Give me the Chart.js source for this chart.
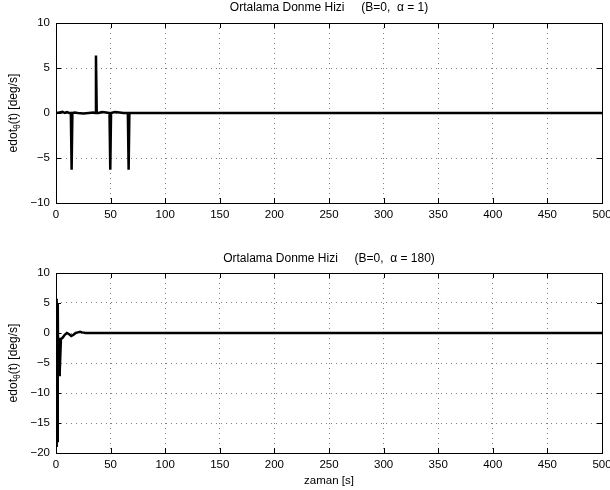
<!DOCTYPE html>
<html>
<head>
<meta charset="utf-8">
<script src="https://cdn.jsdelivr.net/npm/chart.js@4.4.1/dist/chart.umd.min.js"></script>
<style>
  body { margin: 0; background: #fff; }
  canvas { position: absolute; left: 0; }
</style>
</head>
<body>
<canvas id="topChart" width="610" height="245" style="top:0"></canvas>
<canvas id="bottomChart" width="610" height="245" style="top:245px"></canvas>
<script>
var topTitle = "Ortalama Donme Hizi     (B=0,  \u03b1 = 1)";
var bottomTitle = "Ortalama Donme Hizi     (B=0,  \u03b1 = 180)";
var yLabelMain = "edot";
var yLabelSub = "\u03b8";
var yLabelRest = "(t) [deg/s]";
var xLabel = "zaman [s]";

var timeTop = [0, 3, 6, 8, 10, 12, 13.6, 14.3, 15, 17, 20, 25, 30, 34, 35.9, 36.6, 37.3, 39, 42, 46, 49, 49.7, 50.4, 54, 58, 62, 65.8, 66.5, 67.2, 72, 500];
var valTop = [0, 0.05, 0.12, 0, 0.1, 0, 0, -6.3, 0, 0.05, 0, -0.05, 0, 0.05, 0, 6.4, 0, 0, 0.1, 0.05, 0, -6.3, 0, 0.1, 0.05, 0, 0, -6.3, 0, 0, 0];

var timeBottom = [0, 0.3, 0.6, 0.9, 1.2, 1.6, 2.0, 2.4, 2.8, 3.2, 3.6, 4.5, 6, 8, 10, 12, 14, 16, 18, 20, 22, 24, 27, 30, 500];
var valBottom = [0, 5.7, -19, 5.5, -18, 5, -7, -1, -7, -0.8, -6.5, -1.0, -0.8, -0.3, 0, -0.2, -0.5, -0.3, 0, 0.1, 0.2, 0.1, 0, 0, 0];

var xTicksMin = 0, xTicksMax = 500, xStep = 50;

var font = "'Liberation Sans', Arial, Helvetica, sans-serif";

function toPoints(xs, ys) {
  return xs.map(function (x, i) { return { x: x, y: ys[i] }; });
}

// box, inward tick marks, title over the plot and the y label with subscript
var matlabFrame = {
  id: 'matlabFrame',
  afterDraw: function (chart, args, opts) {
    var c = chart.ctx, a = chart.chartArea;
    var xs = chart.scales.x, ys = chart.scales.y;
    c.save();
    c.strokeStyle = '#000';
    c.lineWidth = 1;
    c.beginPath();
    xs.ticks.forEach(function (t) {
      var px = Math.round(xs.getPixelForValue(t.value)) + 0.5;
      c.moveTo(px, a.top); c.lineTo(px, a.top + 5);
      c.moveTo(px, a.bottom); c.lineTo(px, a.bottom - 5);
    });
    ys.ticks.forEach(function (t) {
      var py = Math.round(ys.getPixelForValue(t.value)) + 0.5;
      c.moveTo(a.left, py); c.lineTo(a.left + 5, py);
      c.moveTo(a.right, py); c.lineTo(a.right - 5, py);
    });
    c.stroke();
    c.strokeRect(Math.round(a.left) + 0.5, Math.round(a.top) + 0.5, Math.round(a.right - a.left), Math.round(a.bottom - a.top));

    // title
    c.fillStyle = '#000';
    c.textBaseline = 'middle';
    c.textAlign = 'center';
    c.font = '12px ' + font;
    c.fillText(opts.text, (a.left + a.right) / 2, opts.y);

    // y label
    c.translate(14, (a.top + a.bottom) / 2);
    c.rotate(-Math.PI / 2);
    c.font = '12px ' + font;
    var w1 = c.measureText(yLabelMain).width;
    var w3 = c.measureText(yLabelRest).width;
    c.font = '8.5px ' + font;
    var w2 = c.measureText(yLabelSub).width;
    var x0 = -(w1 + w2 + w3) / 2;
    c.textAlign = 'left';
    c.font = '12px ' + font;
    c.fillText(yLabelMain, x0, 0);
    c.font = '8.5px ' + font;
    c.fillText(yLabelSub, x0 + w1, 4);
    c.font = '12px ' + font;
    c.fillText(yLabelRest, x0 + w1 + w2, 0);
    c.restore();
  }
};

function makeChart(id, title, titleY, topPad, times, vals, yMin, yMax, xAxisHeight, showXTitle) {
  return new Chart(document.getElementById(id), {
    type: 'line',
    data: {
      datasets: [{
        data: toPoints(times, vals),
        borderColor: '#000',
        borderWidth: 2.5,
        pointRadius: 0,
        tension: 0,
        fill: false
      }]
    },
    options: {
      responsive: false,
      animation: false,
      events: [],
      layout: { padding: { left: 0, right: 8, top: topPad, bottom: 0 } },
      plugins: {
        legend: { display: false },
        tooltip: { enabled: false },
        title: { display: false },
        matlabFrame: { text: title, y: titleY }
      },
      scales: {
        x: {
          type: 'linear',
          min: xTicksMin,
          max: xTicksMax,
          ticks: {
            stepSize: xStep,
            color: '#000',
            padding: 5,
            maxRotation: 0,
            font: { family: font, size: 11.5 }
          },
          grid: {
            color: 'rgba(0,0,0,0.5)',
            drawTicks: false
          },
          border: { display: false, dash: [1, 4] },
          title: {
            display: showXTitle,
            text: xLabel,
            color: '#000',
            font: { family: font, size: 11.5 },
            padding: { top: 0, bottom: 2 }
          },
          afterFit: function (s) {
            s.height = xAxisHeight;
            s.paddingLeft = 0;
            s.paddingRight = 0;
          }
        },
        y: {
          min: yMin,
          max: yMax,
          ticks: {
            stepSize: 5,
            color: '#000',
            padding: 6,
            font: { family: font, size: 11.5 },
            callback: function (v) { return String(v).replace('-', '\u2212'); }
          },
          grid: {
            color: 'rgba(0,0,0,0.5)',
            drawTicks: false
          },
          border: { display: false, dash: [1, 4] },
          afterFit: function (s) {
            s.width = 56;
            s.paddingTop = 0;
            s.paddingBottom = 0;
          }
        }
      }
    },
    plugins: [matlabFrame]
  });
}

makeChart('topChart', topTitle, 8, 23, timeTop, valTop, -10, 10, 42, false);
makeChart('bottomChart', bottomTitle, 14, 28, timeBottom, valBottom, -20, 10, 37, true);
</script>
</body>
</html>
